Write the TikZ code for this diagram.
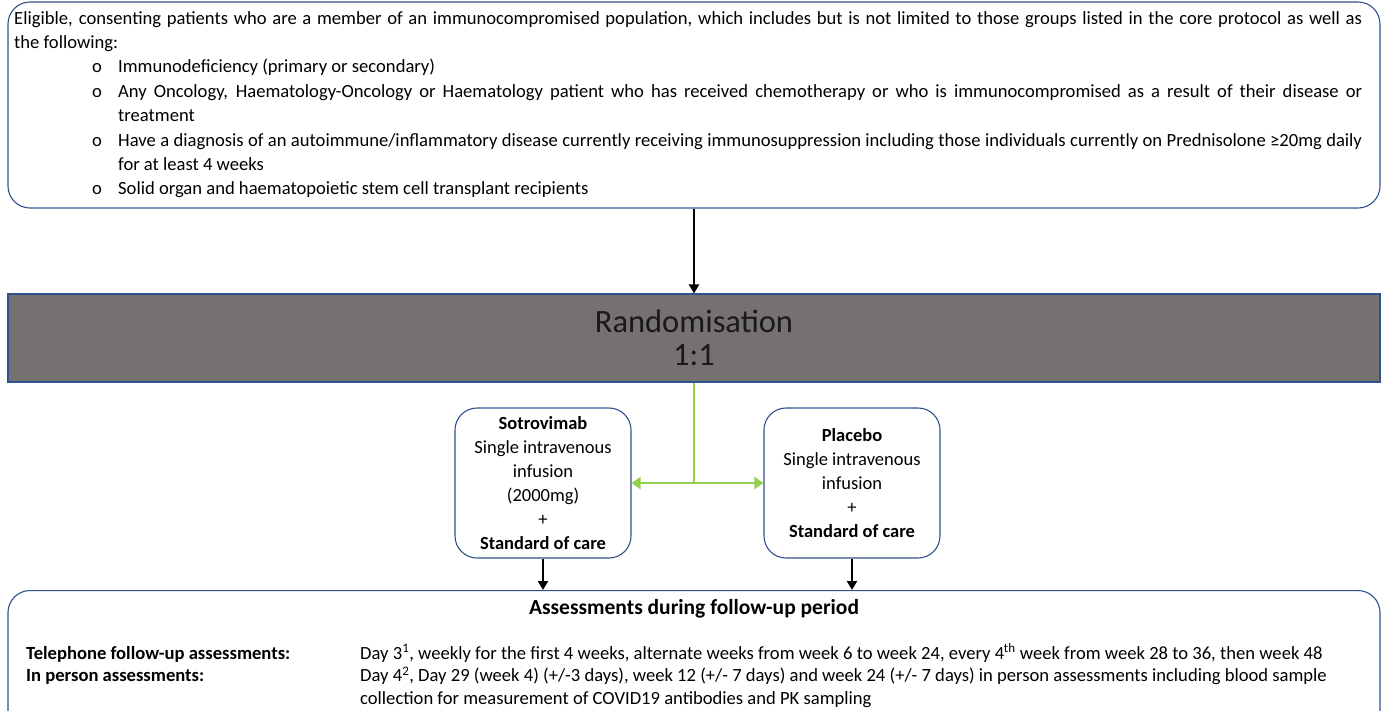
\documentclass[tikz,border=0pt]{standalone}
\usepackage{fontspec}
\setmainfont{Carlito}
\usetikzlibrary{arrows.meta, positioning, calc}
\definecolor{boxblue}{HTML}{2F528F}
\definecolor{randgray}{HTML}{767171}
\definecolor{armgreen}{HTML}{92D050}
\newcommand{\critem}[1]{\par\hangindent=104pt\hangafter=1\noindent\makebox[104pt][l]{\hspace{78pt}o}#1}

\begin{document}
\begin{tikzpicture}[x=1pt, y=-1pt,
    panel/.style={rectangle, rounded corners=22pt, draw=boxblue, line width=1.1pt, fill=white},
    armbox/.style={panel, minimum width=176pt, minimum height=150pt, align=center, font=\fontsize{18.5}{24}\selectfont},
    bodytext/.style={inner sep=0pt, font=\fontsize{18.6}{24.4}\selectfont},
    flow/.style={-{Triangle[length=9pt,width=10pt]}, line width=2.2pt},
    armsplit/.style={{Triangle[length=9pt,width=12pt]}-{Triangle[length=9pt,width=12pt]}, draw=armgreen, line width=2.6pt},
]
\useasboundingbox (0,0) rectangle (1385,710);

\node[panel, minimum width=1372pt, minimum height=206pt] (elig) at (694,105) {};
\node[bodytext, anchor=base west, text width=1348pt, align=justify] (eligtext) at (14,24) {%
Eligible, consenting patients who are a member of an immunocompromised population, which includes but is not limited to those groups listed in the core protocol as well as\linebreak the following:
\critem{Immunodeficiency (primary or secondary)}
\critem{Any Oncology, Haematology-Oncology or Haematology patient who has received chemotherapy or who is immunocompromised as a result of their disease or\linebreak treatment}
\critem{Have a diagnosis of an autoimmune/inflammatory disease currently receiving immunosuppression including those individuals currently on Prednisolone ≥20mg daily\linebreak for at least 4 weeks}
\critem{Solid organ and haematopoietic stem cell transplant recipients}};

\node[rectangle, draw=boxblue, line width=1.1pt, fill=randgray, minimum width=1372pt, minimum height=88pt, align=center, font=\fontsize{32.5}{33}\selectfont, text=black!90] (rand) at (694,338) {Randomisation\\1:1};

\node[armbox] (sotro) at (543,483) {\textbf{Sotrovimab}\\Single intravenous\\infusion\\(2000mg)\\+\\\textbf{Standard of care}};
\node[armbox] (placebo) at (852,483) {\textbf{Placebo}\\Single intravenous\\infusion\\+\\\textbf{Standard of care}};

\node[panel, minimum width=1372pt, minimum height=160pt, anchor=north] (assess) at (694,590) {};
\node[bodytext, anchor=base, font=\fontsize{21.5}{24}\selectfont\bfseries] (assesstitle) at (694,614) {Assessments during follow-up period};
\node[bodytext, anchor=base west, font=\fontsize{18.6}{24}\selectfont\bfseries] (phonelbl) at (26,659) {Telephone follow-up assessments:};
\node[bodytext, anchor=base west, font=\fontsize{18.6}{24}\selectfont\bfseries] (personlbl) at (26,681.5) {In person assessments:};
\node[bodytext, anchor=base west] (phonedays) at (360,659) {Day 3\textsuperscript{1}, weekly for the first 4 weeks, alternate weeks from week 6 to week 24, every 4\textsuperscript{th} week from week 28 to 36, then week 48};
\node[bodytext, anchor=base west] (persondays) at (360,681.5) {Day 4\textsuperscript{2}, Day 29 (week 4) (+/-3 days), week 12 (+/- 7 days) and week 24 (+/- 7 days) in person assessments including blood sample};
\node[bodytext, anchor=base west] (persondays2) at (360,704) {collection for measurement of COVID19 antibodies and PK sampling};

\draw[flow] (elig.south) -- (rand.north);
\coordinate (fork) at (rand.south |- sotro.east);
\draw[draw=armgreen, line width=2.6pt] (rand.south) -- (fork);
\draw[armsplit] (sotro.east) -- (placebo.west);
\draw[flow] (sotro.south) -- (sotro.south |- assess.north);
\draw[flow] (placebo.south) -- (placebo.south |- assess.north);

\end{tikzpicture}
\end{document}
